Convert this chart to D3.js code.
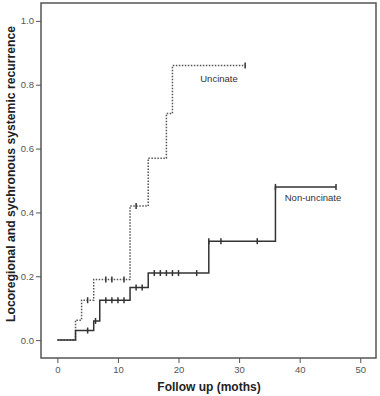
<!DOCTYPE html>
<html>
<head>
<meta charset="utf-8">
<script src="https://cdn.jsdelivr.net/npm/d3@7"></script>
<style>
  body { margin: 0; background: #fff; }
  svg { font-family: Arial, "Liberation Sans", sans-serif; }
</style>
</head>
<body>
<div id="chart"></div>
<script>
// step times / cumulative recurrence for each group
var uncTimes = [0, 3, 4, 6, 12, 15, 18, 19];
var uncValues = [0, 0.0625, 0.125, 0.19, 0.42, 0.57, 0.71, 0.86];
var uncEnd = 31;
var uncCensored = [5, 8, 9, 11, 13, 31];

var nonTimes = [0, 3, 6, 7, 12, 15, 25, 36];
var nonValues = [0, 0.03, 0.06, 0.125, 0.165, 0.21, 0.31, 0.48];
var nonEnd = 46;
var nonCensored = [5, 6.3, 8, 9, 10, 11, 13, 14, 16, 17, 18, 19, 20, 23, 25, 27, 33, 36, 46];

var xTicks = [0, 10, 20, 30, 40, 50];
var yTicks = [0.0, 0.2, 0.4, 0.6, 0.8, 1.0];

var width = 380, height = 396;

var svg = d3.select("#chart").append("svg")
    .attr("width", width)
    .attr("height", height);

var x = d3.scaleLinear().domain([-2.7, 52.6]).range([41, 376]);
var y = d3.scaleLinear().domain([-0.056, 1.056]).range([358, 3]);

// frame
svg.append("rect")
    .attr("x", 41).attr("y", 3)
    .attr("width", 335).attr("height", 355)
    .attr("fill", "none")
    .attr("stroke", "#555")
    .attr("stroke-width", 1.5);

var xAxis = svg.append("g")
    .attr("transform", "translate(0,358)")
    .call(d3.axisBottom(x).tickValues(xTicks).tickSize(5).tickPadding(3));
var yAxis = svg.append("g")
    .attr("transform", "translate(41,0)")
    .call(d3.axisLeft(y).tickValues(yTicks).tickSize(5).tickPadding(2).tickFormat(d3.format(".1f")));

[xAxis, yAxis].forEach(function(a) {
  a.select(".domain").remove();
  a.selectAll("line").attr("stroke", "#555");
  a.selectAll("text").attr("fill", "#555").style("font-size", "9.5px");
});

// axis titles
svg.append("text")
    .attr("x", 209).attr("y", 391)
    .attr("text-anchor", "middle")
    .style("font-size", "12px").style("font-weight", "bold")
    .attr("fill", "#222")
    .text("Follow up (moths)");

svg.append("text")
    .attr("transform", "translate(15,174) rotate(-90)")
    .attr("text-anchor", "middle")
    .style("font-size", "12.2px").style("font-weight", "bold")
    .attr("fill", "#222")
    .text("Locoregional and sychronous systemic recurrence");

function stepPoints(times, values, end) {
  var pts = times.map(function(t, i) { return [t, values[i]]; });
  pts.push([end, values[values.length - 1]]);
  return pts;
}

function valueAt(times, values, t) {
  var v = values[0];
  times.forEach(function(tt, i) { if (tt <= t) v = values[i]; });
  return v;
}

var line = d3.line()
    .x(function(d) { return x(d[0]); })
    .y(function(d) { return y(d[1]); })
    .curve(d3.curveStepAfter);

function drawGroup(times, values, end, censored, dash, color) {
  svg.append("path")
      .datum(stepPoints(times, values, end))
      .attr("d", line)
      .attr("fill", "none")
      .attr("stroke", color)
      .attr("stroke-width", 1.5)
      .attr("stroke-dasharray", dash);

  svg.append("g").selectAll("line")
      .data(censored)
      .enter().append("line")
      .attr("x1", function(d) { return x(d); })
      .attr("x2", function(d) { return x(d); })
      .attr("y1", function(d) { return y(valueAt(times, values, d)) - 3; })
      .attr("y2", function(d) { return y(valueAt(times, values, d)) + 3; })
      .attr("stroke", "#333")
      .attr("stroke-width", 1.5);
}

drawGroup(uncTimes, uncValues, uncEnd, uncCensored, "1.5,1.5", "#555");
drawGroup(nonTimes, nonValues, nonEnd, nonCensored, null, "#333");

svg.append("text")
    .attr("x", 219).attr("y", 82)
    .attr("text-anchor", "middle")
    .style("font-size", "9.5px")
    .attr("fill", "#333")
    .text("Uncinate");

svg.append("text")
    .attr("x", 313).attr("y", 201)
    .attr("text-anchor", "middle")
    .style("font-size", "9.5px")
    .attr("fill", "#333")
    .text("Non-uncinate");
</script>
</body>
</html>
